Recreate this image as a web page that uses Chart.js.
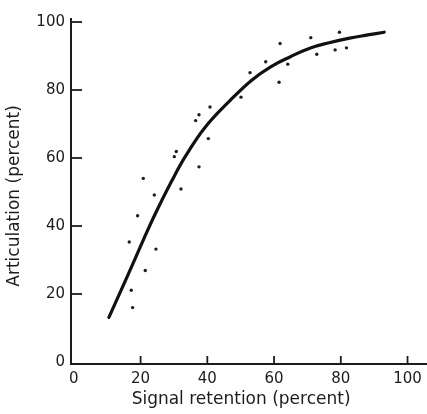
<!DOCTYPE html>
<html>
<head>
<meta charset="utf-8">
<script src="https://cdn.jsdelivr.net/npm/chart.js@4/dist/chart.umd.min.js"></script>
<style>
html,body{margin:0;padding:0;background:#fff;}
#wrap{width:427px;height:414px;position:relative;}
</style>
</head>
<body>
<div id="wrap"><canvas id="c" width="427" height="414"></canvas></div>
<script>
// Data
const xTickValues = [0, 20, 40, 60, 80, 100];
const yTickValues = [0, 20, 40, 60, 80, 100];
const xTitle = "Signal retention (percent)  ";
const yTitle = "Articulation (percent)  ";

const obsRetention = [20.8, 24.1, 30.1, 30.7, 32.1, 36.5, 37.5, 37.5, 40.3, 40.8,
                      50.1, 52.8, 57.5, 61.5, 61.8, 64.1, 71.0, 72.8, 78.3, 79.6,
                      81.7, 19.1, 16.6, 24.6, 21.4, 17.2, 17.6];
const obsArticulation = [54.0, 49.1, 60.4, 61.9, 50.9, 71.0, 72.7, 57.4, 65.7, 75.0,
                         77.9, 85.1, 88.3, 82.3, 93.7, 87.6, 95.4, 90.5, 91.8, 97.0,
                         92.4, 43.0, 35.3, 33.2, 26.9, 21.1, 16.0];

const curveRetention = [10.5, 14.2, 18.1, 21.0, 24.8, 29.2, 33.5, 39.3, 47.0, 53.3,
                        59.1, 64.9, 70.7, 76.5, 82.3, 88.1, 93.0];
const curveArticulation = [13.1, 21.2, 29.8, 36.3, 44.4, 53.0, 60.6, 69.0, 77.1, 82.9,
                           86.9, 89.8, 92.3, 93.9, 95.2, 96.2, 97.0];

const obsPoints = obsRetention.map((x, i) => ({x: x, y: obsArticulation[i]}));
const curvePoints = curveRetention.map((x, i) => ({x: x, y: curveArticulation[i]}));

const ink = '#1c1c1c';
const FONT = "'DejaVu Sans', sans-serif";

const axesPlugin = {
  id: 'axesPlugin',
  afterDraw(chart) {
    const ctx = chart.ctx;
    const xs = chart.scales.x, ys = chart.scales.y;
    const a = chart.chartArea;
    ctx.save();
    ctx.strokeStyle = ink;
    ctx.lineWidth = 2;
    ctx.lineCap = 'butt';
    ctx.beginPath();
    ctx.moveTo(a.left + 1, a.top);
    ctx.lineTo(a.left + 1, a.bottom + 1);
    ctx.lineTo(chart.width, a.bottom + 1);
    ctx.stroke();
    ctx.lineWidth = 1.8;
    yTickValues.slice(1).forEach(v => {
      const py = ys.getPixelForValue(v);
      ctx.beginPath();
      ctx.moveTo(a.left + 1, py);
      ctx.lineTo(a.left + 12, py);
      ctx.stroke();
    });
    xTickValues.slice(1).forEach(v => {
      const px = xs.getPixelForValue(v);
      ctx.beginPath();
      ctx.moveTo(px, a.bottom + 1);
      ctx.lineTo(px, a.bottom - 7);
      ctx.stroke();
    });
    ctx.restore();
  }
};

new Chart(document.getElementById('c'), {
  data: {
    datasets: [
      {
        type: 'line',
        data: curvePoints,
        borderColor: '#111',
        borderWidth: 3.2,
        borderCapStyle: 'round',
        tension: 0.4,
        pointRadius: 0,
        fill: false,
        order: 1
      },
      {
        type: 'scatter',
        data: obsPoints,
        backgroundColor: '#1e1e1e',
        borderWidth: 0,
        pointRadius: 1.7,
        order: 2
      }
    ]
  },
  options: {
    responsive: false,
    animation: false,
    devicePixelRatio: 1,
    layout: {padding: {top: 18, right: 0, left: 0, bottom: 0}},
    plugins: {legend: {display: false}, tooltip: {enabled: false}},
    scales: {
      x: {
        type: 'linear',
        min: -1.16,
        max: 104.64,
        afterBuildTicks: s => { s.ticks = xTickValues.map(v => ({value: v})); },
        afterFit: s => { s.height = 51; s.paddingRight = 0; s.paddingLeft = 0; },
        grid: {display: false, drawTicks: false},
        border: {display: false},
        ticks: {
          color: ink,
          font: {family: FONT, size: 15},
          padding: 7,
          maxRotation: 0,
          autoSkip: false
        },
        title: {
          display: true,
          text: xTitle,
          color: ink,
          font: {family: FONT, size: 17},
          padding: {top: 0, bottom: 4}
        }
      },
      y: {
        type: 'linear',
        min: -0.3,
        max: 101.18,
        afterBuildTicks: s => { s.ticks = yTickValues.map(v => ({value: v})); },
        afterFit: s => { s.width = 70; s.paddingTop = 0; s.paddingBottom = 0; },
        grid: {display: false, drawTicks: false},
        border: {display: false},
        ticks: {
          color: ink,
          font: {family: FONT, size: 15},
          padding: 5,
          autoSkip: false
        },
        title: {
          display: true,
          text: yTitle,
          color: ink,
          font: {family: FONT, size: 17},
          padding: {top: 4, bottom: 0}
        }
      }
    }
  },
  plugins: [axesPlugin]
});
</script>
</body>
</html>
